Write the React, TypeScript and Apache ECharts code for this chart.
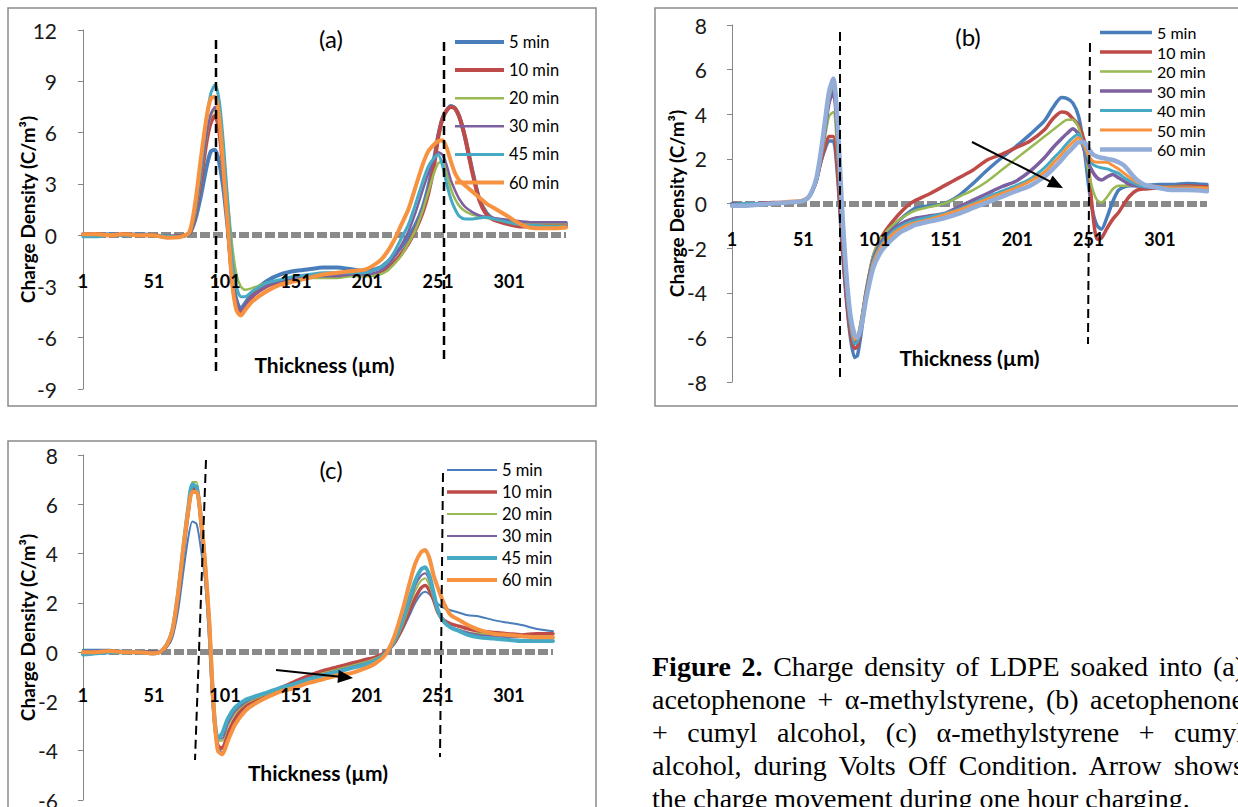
import React, { useEffect, useRef } from "react";
import * as echarts from "echarts";

const W = 1238;
const H = 807;

// ---------- Panel (a): acetophenone + alpha-methylstyrene ----------
const namesA = ["5 min", "10 min", "20 min", "30 min", "45 min", "60 min"];
const xA = [1, 10, 20, 30, 40, 50, 60, 70, 76, 80, 84, 88, 91, 94, 97, 100, 103, 106, 109, 112, 115, 120, 130, 140, 150, 160, 170, 180, 190, 200, 210, 215, 220, 225, 230, 235, 240, 244, 248, 251, 254, 257, 260, 263, 266, 270, 275, 280, 285, 290, 300, 310, 320, 330, 341];
const a5 = [0.05, 0.0, 0.05, 0.0, 0.05, 0.0, -0.1, -0.05, 0.1, 0.9, 2.3, 4.0, 4.9, 5.0, 4.2, 2.6, 0.3, -2.3, -3.8, -4.3, -4.0, -3.4, -2.7, -2.3, -2.1, -2.0, -1.9, -1.9, -2.0, -2.1, -1.9, -1.6, -1.2, -0.7, -0.1, 0.6, 1.6, 2.8, 4.4, 5.8, 6.8, 7.3, 7.55, 7.4, 6.9, 5.7, 3.8, 2.1, 1.3, 0.95, 0.75, 0.65, 0.65, 0.65, 0.7];
const a10 = [0.0, 0.05, 0.0, 0.05, 0.0, 0.0, -0.1, -0.05, 0.1, 1.3, 3.2, 5.5, 6.6, 7.0, 6.0, 3.6, 0.6, -2.6, -4.2, -4.5, -4.2, -3.6, -3.0, -2.7, -2.5, -2.4, -2.4, -2.35, -2.3, -2.35, -2.2, -1.95, -1.6, -1.1, -0.5, 0.3, 1.3, 2.4, 4.0, 5.7, 6.8, 7.3, 7.5, 7.4, 6.9, 5.7, 3.7, 2.05, 1.2, 0.9, 0.65, 0.5, 0.5, 0.55, 0.55];
const a20 = [0.0, 0.0, 0.05, 0.0, 0.0, -0.05, -0.1, -0.05, 0.1, 1.3, 3.4, 5.8, 7.0, 7.4, 6.6, 4.5, 2.0, -0.6, -2.3, -3.0, -3.2, -3.1, -2.8, -2.7, -2.6, -2.5, -2.5, -2.5, -2.4, -2.4, -2.3, -2.1, -1.7, -1.2, -0.5, 0.3, 1.4, 2.5, 3.6, 4.2, 4.3, 3.6, 2.7, 2.1, 1.7, 1.4, 1.2, 1.1, 1.0, 0.95, 0.8, 0.75, 0.7, 0.7, 0.7];
const a30 = [0.05, 0.0, 0.0, 0.05, 0.05, 0.0, -0.05, -0.05, 0.1, 1.4, 3.5, 5.9, 7.1, 7.5, 6.5, 4.0, 1.0, -2.2, -3.9, -4.4, -4.1, -3.6, -3.0, -2.7, -2.5, -2.4, -2.4, -2.4, -2.3, -2.3, -2.1, -1.8, -1.3, -0.6, 0.2, 1.3, 2.6, 3.6, 4.4, 4.85, 4.7, 4.1, 3.2, 2.6, 2.1, 1.65, 1.35, 1.15, 1.05, 1.0, 0.9, 0.8, 0.75, 0.75, 0.75];
const a45 = [-0.1, -0.1, 0.0, 0.0, 0.0, 0.0, -0.05, -0.1, 0.1, 1.6, 4.0, 6.8, 8.3, 8.8, 7.8, 5.2, 1.8, -1.4, -3.0, -3.6, -3.6, -3.3, -2.8, -2.6, -2.4, -2.3, -2.2, -2.2, -2.2, -2.2, -1.9, -1.6, -1.0, -0.2, 0.6, 1.8, 3.1, 4.0, 4.5, 4.7, 4.1, 3.0, 2.1, 1.5, 1.1, 0.95, 0.95, 1.0, 1.05, 0.95, 0.75, 0.6, 0.55, 0.5, 0.5];
const a60 = [0.05, 0.05, 0.0, 0.05, 0.0, 0.0, -0.15, -0.1, 0.2, 1.9, 4.5, 6.9, 8.0, 8.1, 6.8, 3.7, 0.5, -2.8, -4.4, -4.7, -4.4, -3.9, -3.3, -2.9, -2.7, -2.5, -2.3, -2.2, -2.1, -2.0, -1.5, -1.0, -0.3, 0.6, 1.5, 2.8, 4.1, 4.9, 5.3, 5.5, 5.55, 5.1, 4.3, 3.6, 3.2, 2.9, 2.55, 2.2, 1.85, 1.6, 1.1, 0.6, 0.4, 0.4, 0.45];

// ---------- Panel (b): acetophenone + cumyl alcohol ----------
const namesB = ["5 min", "10 min", "20 min", "30 min", "40 min", "50 min", "60 min"];
const xB = [1, 10, 20, 30, 40, 50, 55, 60, 63, 66, 69, 72, 75, 78, 81, 84, 87, 89, 92, 95, 100, 105, 110, 115, 120, 125, 130, 140, 150, 160, 170, 180, 190, 200, 210, 220, 226, 232, 236, 240, 244, 248, 251, 254, 257, 260, 264, 268, 272, 276, 280, 285, 290, 300, 310, 320, 334];
const b5 = [-0.05, -0.1, 0.0, 0.0, 0.05, 0.1, 0.3, 1.0, 1.8, 2.4, 2.8, 2.8, 1.2, -1.8, -4.2, -6.0, -6.9, -6.8, -5.6, -4.2, -2.5, -1.7, -1.3, -0.95, -0.65, -0.4, -0.2, -0.1, 0.0, 0.35, 0.9, 1.5, 2.05, 2.55, 3.1, 3.7, 4.3, 4.75, 4.7, 4.5, 3.9, 2.4, 0.8, -0.4, -1.0, -1.15, -0.6, 0.1, 0.6, 0.75, 0.8, 0.8, 0.8, 0.85, 0.85, 0.9, 0.85];
const b10 = [-0.05, -0.05, 0.0, 0.05, 0.05, 0.1, 0.3, 1.0, 1.8, 2.5, 3.0, 3.0, 1.5, -1.5, -4.0, -5.8, -6.5, -6.4, -5.3, -4.0, -2.4, -1.6, -1.1, -0.7, -0.35, -0.05, 0.15, 0.45, 0.8, 1.15, 1.5, 1.95, 2.2, 2.5, 2.8, 3.3, 3.8, 4.1, 4.05, 3.8, 3.5, 2.8, 1.6, -0.5, -1.6, -1.55, -1.1, -0.7, -0.4, 0.0, 0.35, 0.6, 0.65, 0.7, 0.75, 0.8, 0.75];
const b20 = [-0.05, -0.05, 0.0, 0.0, 0.05, 0.1, 0.3, 1.0, 1.9, 2.9, 3.9, 4.1, 2.2, -1.0, -3.7, -5.5, -6.1, -6.0, -5.0, -3.8, -2.3, -1.6, -1.2, -0.9, -0.65, -0.45, -0.3, -0.15, 0.0, 0.3, 0.6, 1.0, 1.5, 2.0, 2.5, 3.0, 3.3, 3.6, 3.75, 3.75, 3.4, 2.4, 1.4, 0.6, 0.15, 0.05, 0.3, 0.65, 0.8, 0.8, 0.8, 0.8, 0.8, 0.75, 0.75, 0.75, 0.7];
const b30 = [0.0, -0.05, 0.0, 0.0, 0.05, 0.1, 0.3, 1.0, 2.0, 3.2, 4.5, 5.0, 3.0, -0.6, -3.5, -5.4, -6.2, -6.1, -5.2, -4.0, -2.5, -1.8, -1.4, -1.1, -0.9, -0.75, -0.65, -0.55, -0.45, -0.15, 0.15, 0.45, 0.75, 1.0, 1.45, 2.05, 2.5, 2.9, 3.15, 3.35, 3.1, 2.4, 1.8, 1.4, 1.15, 1.05, 1.2, 1.3, 1.15, 1.0, 0.85, 0.8, 0.75, 0.75, 0.7, 0.7, 0.65];
const b40 = [-0.05, 0.0, 0.0, 0.0, 0.05, 0.1, 0.3, 1.0, 2.0, 3.3, 4.7, 5.3, 3.3, -0.4, -3.4, -5.4, -6.3, -6.2, -5.3, -4.1, -2.6, -1.9, -1.5, -1.2, -1.0, -0.85, -0.75, -0.6, -0.45, -0.25, 0.0, 0.3, 0.55, 0.8, 1.1, 1.6, 2.0, 2.4, 2.7, 2.95, 3.1, 2.5, 2.0, 1.75, 1.65, 1.6, 1.55, 1.45, 1.35, 1.15, 1.0, 0.85, 0.75, 0.7, 0.65, 0.6, 0.6];
const b50 = [-0.1, -0.1, -0.05, 0.0, 0.1, 0.15, 0.35, 1.1, 2.1, 3.4, 4.8, 5.4, 3.5, -0.3, -3.3, -5.2, -6.1, -6.0, -5.2, -4.1, -2.7, -2.0, -1.6, -1.3, -1.1, -0.95, -0.85, -0.7, -0.5, -0.3, -0.05, 0.2, 0.45, 0.7, 1.0, 1.4, 1.8, 2.2, 2.5, 2.75, 2.95, 2.6, 2.15, 1.9, 1.85, 1.85, 1.85, 1.7, 1.55, 1.35, 1.15, 0.95, 0.85, 0.75, 0.7, 0.7, 0.7];
const b60 = [-0.1, -0.1, -0.05, 0.0, 0.05, 0.1, 0.3, 1.1, 2.2, 3.6, 5.0, 5.6, 3.7, 0.0, -3.0, -5.0, -5.9, -6.0, -5.4, -4.3, -2.9, -2.2, -1.8, -1.5, -1.25, -1.1, -0.95, -0.8, -0.65, -0.45, -0.2, 0.05, 0.3, 0.55, 0.8, 1.2, 1.55, 1.95, 2.25, 2.5, 2.75, 2.75, 2.45, 2.2, 2.1, 2.05, 2.0, 1.95, 1.85, 1.7, 1.4, 1.05, 0.85, 0.7, 0.6, 0.6, 0.55];

// ---------- Panel (c): alpha-methylstyrene + cumyl alcohol ----------
const namesC = ["5 min", "10 min", "20 min", "30 min", "45 min", "60 min"];
const xC = [1, 10, 20, 30, 40, 50, 55, 60, 64, 68, 72, 75, 78, 81, 84, 87, 90, 92, 94, 96, 99, 103, 108, 115, 122, 130, 140, 150, 160, 170, 180, 190, 200, 207, 214, 220, 226, 231, 235, 239, 242, 245, 248, 251, 255, 260, 266, 272, 280, 290, 300, 310, 320, 332];
const c5 = [0.1, 0.1, 0.1, 0.05, 0.05, 0.05, 0.05, 0.2, 0.6, 1.7, 3.4, 4.6, 5.3, 5.2, 4.2, 2.9, 0.8, -1.2, -2.8, -3.7, -4.1, -3.6, -3.0, -2.4, -2.1, -1.85, -1.55, -1.3, -1.05, -0.85, -0.65, -0.5, -0.35, -0.2, 0.0, 0.3, 0.9, 1.5, 2.0, 2.35, 2.45, 2.35, 2.15, 1.95, 1.8, 1.7, 1.6, 1.5, 1.45, 1.3, 1.2, 1.1, 0.95, 0.85];
const c10 = [0.0, 0.0, 0.05, 0.0, 0.0, 0.0, 0.0, 0.25, 0.8, 2.2, 4.2, 5.6, 6.6, 6.6, 5.3, 3.4, 0.8, -1.5, -3.1, -3.8, -3.9, -3.3, -2.7, -2.2, -1.95, -1.7, -1.45, -1.2, -0.95, -0.75, -0.6, -0.45, -0.3, -0.2, 0.0, 0.35, 1.0, 1.7, 2.2, 2.6, 2.7, 2.5, 2.1, 1.6, 1.3, 1.15, 1.05, 0.95, 0.85, 0.8, 0.75, 0.7, 0.75, 0.75];
const c20 = [-0.05, 0.0, 0.0, 0.0, -0.05, 0.0, 0.0, 0.25, 0.8, 2.3, 4.4, 5.8, 6.9, 6.9, 5.6, 3.6, 1.0, -1.3, -2.9, -3.6, -3.6, -3.0, -2.5, -2.1, -1.9, -1.7, -1.5, -1.3, -1.05, -0.85, -0.7, -0.55, -0.4, -0.25, -0.05, 0.35, 1.1, 1.9, 2.5, 2.9, 3.0, 2.7, 2.2, 1.6, 1.2, 1.0, 0.9, 0.8, 0.75, 0.7, 0.65, 0.65, 0.65, 0.65];
const c30 = [0.0, 0.0, 0.0, 0.0, -0.05, -0.05, 0.0, 0.25, 0.8, 2.2, 4.3, 5.7, 6.7, 6.7, 5.5, 3.5, 1.0, -1.3, -2.9, -3.5, -3.5, -2.9, -2.4, -2.05, -1.85, -1.65, -1.45, -1.25, -1.05, -0.9, -0.75, -0.6, -0.45, -0.3, -0.05, 0.4, 1.2, 2.0, 2.7, 3.1, 3.2, 2.9, 2.3, 1.6, 1.2, 1.0, 0.9, 0.8, 0.7, 0.65, 0.6, 0.6, 0.6, 0.6];
const c45 = [-0.1, -0.05, 0.0, 0.0, 0.0, -0.05, 0.0, 0.3, 0.9, 2.4, 4.4, 5.8, 6.8, 6.7, 5.5, 3.5, 1.0, -1.3, -2.9, -3.5, -3.3, -2.7, -2.25, -1.95, -1.8, -1.65, -1.45, -1.3, -1.1, -0.95, -0.8, -0.65, -0.5, -0.35, -0.05, 0.45, 1.3, 2.2, 2.9, 3.35, 3.45, 3.1, 2.4, 1.7, 1.25, 1.0, 0.85, 0.7, 0.6, 0.55, 0.5, 0.45, 0.45, 0.45];
const c60 = [0.0, 0.0, 0.05, 0.0, 0.0, -0.05, 0.0, 0.3, 0.9, 2.4, 4.4, 5.7, 6.5, 6.5, 5.4, 3.6, 1.2, -1.2, -3.0, -4.0, -4.15, -3.6, -2.95, -2.4, -2.1, -1.85, -1.6, -1.45, -1.25, -1.1, -0.95, -0.85, -0.65, -0.45, -0.1, 0.6, 1.7, 2.8, 3.6, 4.05, 4.15, 3.8, 3.1, 2.6, 2.0, 1.5, 1.3, 1.1, 0.9, 0.75, 0.7, 0.65, 0.6, 0.6];

// ---------- Caption ----------
const captionLead = "Figure 2.";
const captionLines = [
  "Charge density of LDPE soaked into (a)",
  "acetophenone + \u03b1-methylstyrene, (b) acetophenone",
  "+ cumyl alcohol, (c) \u03b1-methylstyrene + cumyl",
  "alcohol, during Volts Off Condition. Arrow shows",
  "the charge movement during one hour charging.",
];

// ---------- Styling ----------
const BLUE = "#4A7EBB";
const RED = "#BE4B48";
const GREEN = "#98B954";
const PURPLE = "#7D60A0";
const TEAL = "#46AAC5";
const ORANGE = "#F69240";
const LIGHT = "#93ADD9";
const FONT = "Lato, 'DejaVu Sans', sans-serif";

type Panel = {
  label: string;
  names: string[];
  xs: number[];
  values: number[][];
  colors: string[];
  widths: number[];
  grid: { left: number; top: number; width: number; height: number };
  xMax: number;
  yMin: number;
  yMax: number;
  yStep: number;
  xLabelMargin: number;
  xNameGap: number;
  yLabelMargin: number;
  yNameGap: number;
  titlePos: [number, number];
  frame: [number, number, number, number];
  legend: { x0: number; x1: number; tx: number; y0: number; step: number; font: number };
  dashes: [number, number, number, number][];
  dashWidth: number;
  arrow?: [number, number, number, number];
};

const panels: Panel[] = [
  {
    label: "(a)",
    names: namesA,
    xs: xA,
    values: [a5, a10, a20, a30, a45, a60],
    colors: [BLUE, RED, GREEN, PURPLE, TEAL, ORANGE],
    widths: [4, 4, 2.5, 2.5, 3, 4],
    grid: { left: 83, top: 30, width: 483, height: 359 },
    xMax: 340,
    yMin: -9,
    yMax: 12,
    yStep: 3,
    xLabelMargin: 37,
    xNameGap: 119,
    yLabelMargin: 26,
    yNameGap: 46,
    titlePos: [331, 38],
    frame: [8, 8, 588, 398],
    legend: { x0: 455, x1: 504, tx: 509, y0: 42, step: 28.1, font: 16.5 },
    dashes: [
      [216, 40, 216, 374],
      [444, 42, 444, 364],
    ],
    dashWidth: 2.5,
  },
  {
    label: "(b)",
    names: namesB,
    xs: xB,
    values: [b5, b10, b20, b30, b40, b50, b60],
    colors: [BLUE, RED, GREEN, PURPLE, TEAL, ORANGE, LIGHT],
    widths: [3.5, 3.5, 2.5, 3.5, 3, 3, 4.5],
    grid: { left: 732, top: 25, width: 475, height: 357 },
    xMax: 333,
    yMin: -8,
    yMax: 8,
    yStep: 2,
    xLabelMargin: 26,
    xNameGap: 143,
    yLabelMargin: 25,
    yNameGap: 46,
    titlePos: [968, 36],
    frame: [655, 8, 600, 398],
    legend: { x0: 1100, x1: 1152, tx: 1157, y0: 32.5, step: 19.5, font: 16 },
    dashes: [
      [840, 32, 840, 382],
      [1090, 43, 1088, 344],
    ],
    dashWidth: 2,
    arrow: [972, 142, 1063, 188],
  },
  {
    label: "(c)",
    names: namesC,
    xs: xC,
    values: [c5, c10, c20, c30, c45, c60],
    colors: [BLUE, RED, GREEN, PURPLE, TEAL, ORANGE],
    widths: [2, 3.5, 2, 2, 4, 4],
    grid: { left: 83, top: 455, width: 470, height: 345 },
    xMax: 331,
    yMin: -6,
    yMax: 8,
    yStep: 2,
    xLabelMargin: 34,
    xNameGap: 110,
    yLabelMargin: 25,
    yNameGap: 46,
    titlePos: [331, 469],
    frame: [8, 441, 588, 400],
    legend: { x0: 447, x1: 497, tx: 502, y0: 470, step: 22, font: 16.5 },
    dashes: [
      [206, 460, 195, 760],
      [443, 473, 440, 757],
    ],
    dashWidth: 2,
    arrow: [276, 670, 353, 678],
  },
];

function textEl(x: number, y: number, text: string, font: string, align = "left") {
  return {
    type: "text",
    silent: true,
    z: 50,
    style: {
      x,
      y,
      text,
      font,
      fill: "#000",
      align,
      textAlign: align,
      verticalAlign: "middle",
      textVerticalAlign: "middle",
    },
  };
}

function arrowEls(a: [number, number, number, number]) {
  const [sx, sy, tx, ty] = a;
  const dx = tx - sx;
  const dy = ty - sy;
  const len = Math.sqrt(dx * dx + dy * dy);
  const ux = dx / len;
  const uy = dy / len;
  const hl = 15;
  const hw = 6.5;
  const bx = tx - ux * hl;
  const by = ty - uy * hl;
  return [
    {
      type: "line",
      silent: true,
      z: 60,
      shape: { x1: sx, y1: sy, x2: bx + ux * 2, y2: by + uy * 2 },
      style: { stroke: "#000", lineWidth: 2 },
    },
    {
      type: "polygon",
      silent: true,
      z: 60,
      shape: {
        points: [
          [tx, ty],
          [bx - uy * hw, by + ux * hw],
          [bx + uy * hw, by - ux * hw],
        ],
      },
      style: { fill: "#000" },
    },
  ];
}

function buildOption() {
  const grid: any[] = [];
  const xAxis: any[] = [];
  const yAxis: any[] = [];
  const series: any[] = [];
  const graphic: any[] = [];

  panels.forEach((p, pi) => {
    grid.push({ ...p.grid, containLabel: false, outerBoundsMode: "none" });
    // the horizontal axis sits on the zero level of the value axis
    const zeroFromBottom = (p.grid.height * (0 - p.yMin)) / (p.yMax - p.yMin);
    const common = {
      gridIndex: pi,
      type: "value",
      position: "bottom",
      offset: -zeroFromBottom,
      min: 0,
      max: p.xMax,
      interval: 50,
      axisTick: { show: false },
      splitLine: { show: false },
    };
    // axis line (drawn under the curves)
    xAxis.push({
      ...common,
      z: 0,
      axisLine: {
        show: true,
        onZero: false,
        lineStyle: { color: "#8a8a8a", width: 6, type: [10, 3], cap: "butt" },
      },
      axisLabel: { show: false },
    });
    // labels and title (drawn over the curves)
    xAxis.push({
      ...common,
      z: 20,
      axisLine: { show: false, onZero: false },
      axisLabel: {
        margin: p.xLabelMargin,
        showMaxLabel: false,
        formatter: (v: number) => (v % 50 === 0 ? String(v + 1) : ""),
        fontSize: 18,
        fontWeight: "bold",
        fontFamily: FONT,
        color: "#000",
      },
      name: "Thickness (\u00b5m)",
      nameLocation: "middle",
      nameGap: p.xNameGap,
      nameMoveOverlap: false,
      nameTextStyle: { fontSize: 21, fontWeight: "bold", fontFamily: FONT, color: "#000" },
    });
    yAxis.push({
      gridIndex: pi,
      type: "value",
      min: p.yMin,
      max: p.yMax,
      interval: p.yStep,
      axisLine: { show: true, onZero: false, lineStyle: { color: "#868686", width: 1 } },
      axisTick: { show: true, inside: false, length: 5, lineStyle: { color: "#868686" } },
      splitLine: { show: false },
      axisLabel: { margin: p.yLabelMargin, fontSize: 21, fontFamily: FONT, color: "#1a1a1a" },
      name: "Charge Density (C/m\u00b3)",
      nameLocation: "middle",
      nameRotate: 90,
      nameGap: p.yNameGap,
      nameMoveOverlap: false,
      nameTextStyle: { fontSize: 19, fontWeight: "bold", fontFamily: FONT, color: "#000" },
    });

    p.names.forEach((name, si) => {
      series.push({
        name,
        type: "line",
        xAxisIndex: pi * 2,
        yAxisIndex: pi,
        symbol: "none",
        smooth: 0.25,
        data: p.xs.map((x, j) => [x - 1, p.values[si][j]]),
        lineStyle: { color: p.colors[si], width: p.widths[si], cap: "round", join: "round" },
        itemStyle: { color: p.colors[si] },
        z: 3 + si,
      });
      const ly = p.legend.y0 + si * p.legend.step;
      graphic.push({
        type: "line",
        silent: true,
        z: 40,
        shape: { x1: p.legend.x0, y1: ly, x2: p.legend.x1, y2: ly },
        style: { stroke: p.colors[si], lineWidth: p.widths[si] },
      });
      graphic.push(textEl(p.legend.tx, ly, name, `${p.legend.font}px ${FONT}`));
    });

    const [fx, fy, fw, fh] = p.frame;
    graphic.push({
      type: "rect",
      silent: true,
      z: 1,
      shape: { x: fx, y: fy, width: fw, height: fh },
      style: { fill: "none", stroke: "#8a8a8a", lineWidth: 1.5 },
    });
    graphic.push(textEl(p.titlePos[0], p.titlePos[1], p.label, `24px ${FONT}`, "center"));
    p.dashes.forEach((d) => {
      graphic.push({
        type: "line",
        silent: true,
        z: 55,
        shape: { x1: d[0], y1: d[1], x2: d[2], y2: d[3] },
        style: { stroke: "#000", lineWidth: p.dashWidth, lineDash: [9, 5] },
      });
    });
    if (p.arrow) graphic.push(...arrowEls(p.arrow));
  });

  return {
    animation: false,
    backgroundColor: "#ffffff",
    grid,
    xAxis,
    yAxis,
    series,
    graphic,
  };
}

export default function App() {
  const ref = useRef<HTMLDivElement>(null);
  useEffect(() => {
    if (!ref.current) return;
    const chart = echarts.init(ref.current, null, { renderer: "svg", width: W, height: H });
    chart.setOption(buildOption() as any);
    return () => chart.dispose();
  }, []);
  return (
    <div
      style={{
        position: "fixed",
        left: 0,
        top: 0,
        width: W,
        height: H,
        overflow: "hidden",
        background: "#fff",
      }}
    >
      <div ref={ref} style={{ position: "absolute", left: 0, top: 0, width: W, height: H }} />
      <div
        style={{
          position: "absolute",
          left: 652,
          top: 650,
          width: 592,
          fontFamily: "'Liberation Serif', 'Times New Roman', serif",
          fontSize: 28,
          lineHeight: "33px",
          color: "#000",
        }}
      >
        {captionLines.map((line, i) => (
          <div
            key={i}
            style={{
              height: 33,
              whiteSpace: "nowrap",
              textAlign: i < 4 ? "justify" : "left",
              textAlignLast: i < 4 ? "justify" : "left",
            } as React.CSSProperties}
          >
            {i === 0 ? (
              <>
                <b>{captionLead}</b> {line}
              </>
            ) : (
              line
            )}
          </div>
        ))}
      </div>
    </div>
  );
}
